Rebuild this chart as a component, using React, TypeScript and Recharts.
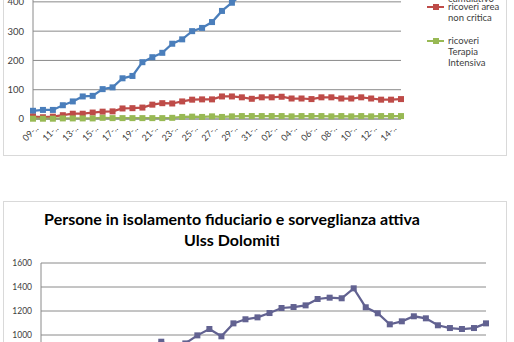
import React from 'react';
import { LineChart, Line, XAxis, YAxis, CartesianGrid } from 'recharts';

const dates = [
  '09-mar', '10-mar', '11-mar', '12-mar', '13-mar', '14-mar', '15-mar', '16-mar', '17-mar', '18-mar',
  '19-mar', '20-mar', '21-mar', '22-mar', '23-mar', '24-mar', '25-mar', '26-mar', '27-mar', '28-mar',
  '29-mar', '30-mar', '31-mar', '01-apr', '02-apr', '03-apr', '04-apr', '05-apr', '06-apr', '07-apr',
  '08-apr', '09-apr', '10-apr', '11-apr', '12-apr', '13-apr', '14-apr', '15-apr',
];

const ricoveriCumulativi = [
  28, 31, 31, 47, 60, 77, 79, 102, 108, 139, 147, 194, 211, 226, 257, 272, 300, 311, 331, 369, 397,
  425, 450, 470, 488, 505, 520, 533, 546, 558, 570, 580, 590, 599, 608, 616, 624, 632,
];
const ricoveriAreaNonCritica = [
  8, 6, 8, 13, 18, 18, 22, 25, 26, 36, 37, 39, 49, 54, 53, 60, 66, 67, 67, 77,
  77, 74, 69, 74, 74, 76, 70, 70, 68, 74, 74, 70, 70, 74, 70, 66, 66, 68,
];
const ricoveriTerapiaIntensiva = [
  1, 1, 1, 2, 2, 2, 2, 4, 3, 3, 3, 3, 3, 3, 4, 7, 8, 7, 9, 7, 9,
  10, 10, 10, 10, 10, 9, 10, 10, 10, 9, 10, 9, 10, 9, 10, 10, 10,
];
const yTicks1 = [0, 100, 200, 300, 400, 500, 600, 700];

const isolamento = [
  310, 380, 450, 520, 590, 650, 720, 790, 850, 900, 944, 905, 930, 997, 1050, 989, 1097, 1131, 1147,
  1183, 1225, 1233, 1247, 1300, 1311, 1306, 1389, 1231, 1181, 1089, 1114, 1156, 1139, 1081, 1058,
  1050, 1058, 1097,
];
const yTicks2 = [0, 200, 400, 600, 800, 1000, 1200, 1400, 1600];

const series1 = [
  { key: 'cum', name: 'ricoveri totali\ncumulativo', color: '#4A7EBB', values: ricoveriCumulativi },
  { key: 'anc', name: 'ricoveri area\nnon critica', color: '#BE4B48', values: ricoveriAreaNonCritica },
  { key: 'ti', name: 'ricoveri\nTerapia\nIntensiva', color: '#98B954', values: ricoveriTerapiaIntensiva },
];

const data1 = dates.map((d, i) => {
  const row: any = { date: d };
  series1.forEach((s) => (row[s.key] = s.values[i]));
  return row;
});
const data2 = dates.map((d, i) => ({ date: d, iso: isolamento[i] }));

const FONT = 'Lato, "Open Sans", sans-serif';
const GRID = '#8a8a8a';

const squareDot = (color: string, size: number) => (props: any) => {
  const { cx, cy, index } = props;
  if (cx == null || cy == null) return <g key={`d${index}`} />;
  return <rect key={`d${index}`} x={cx - size / 2} y={cy - size / 2} width={size} height={size} fill={color} />;
};

const AngledTick = (props: any) => {
  const { x, y, payload } = props;
  const v = String(payload.value);
  return (
    <g transform={`translate(${x + 6},${y + 10})`}>
      <text x={0} y={0} textAnchor="end" transform="rotate(-45)" fontSize={9} fontFamily={FONT} fill="#404040">
        {v.slice(0, 3) + '..'}
      </text>
    </g>
  );
};

const legendTops = [-18.4, 1.1, 34.9];

export default function App() {
  return (
    <div style={{ position: 'absolute', left: 0, top: 0, width: 514, height: 342, overflow: 'hidden', background: '#fff', fontFamily: FONT }}>
      <div style={{ position: 'absolute', left: 3, top: -120, width: 504, height: 276, border: '1px solid #d9d9d9', boxSizing: 'border-box' }} />
      <div style={{ position: 'absolute', left: 0, top: -96 }}>
        <LineChart width={514} height={255} data={data1} margin={{ top: 10, right: 113, bottom: 0, left: 5 }}>
          <CartesianGrid vertical={false} stroke={GRID} strokeWidth={1} />
          <XAxis
            dataKey="date"
            interval={1}
            tickLine={false}
            tickSize={0}
            tickMargin={0}
            height={40}
            axisLine={{ stroke: GRID }}
            tick={<AngledTick />}
          />
          <YAxis
            domain={[0, 700]}
            ticks={yTicks1}
            width={28}
            tickLine={false}
            tickSize={0}
            tickMargin={9}
            axisLine={{ stroke: GRID }}
            tick={{ fontSize: 9.5, fill: '#404040', fontFamily: FONT }}
          />
          {series1.map((s) => (
            <Line
              key={s.key}
              dataKey={s.key}
              name={s.name}
              stroke={s.color}
              strokeWidth={2.25}
              dot={squareDot(s.color, 6)}
              isAnimationActive={false}
            />
          ))}
        </LineChart>
      </div>
      {series1.map((s, i) => (
        <div key={s.key} style={{ position: 'absolute', left: 427, top: legendTops[i] }}>
          <div style={{ position: 'absolute', left: 0, top: 5.2, width: 17, height: 2, background: s.color }} />
          <div style={{ position: 'absolute', left: 5.5, top: 3.2, width: 6, height: 6, background: s.color }} />
          <div style={{ position: 'absolute', left: 21, top: 0, whiteSpace: 'pre', fontSize: 9.5, lineHeight: '11.3px', color: '#404040' }}>
            {s.name}
          </div>
        </div>
      ))}

      <div style={{ position: 'absolute', left: 3, top: 201, width: 504, height: 200, border: '1px solid #d9d9d9', boxSizing: 'border-box' }} />
      <div style={{ position: 'absolute', left: 0, top: 207.5, width: 464, textAlign: 'center', fontSize: 16, fontWeight: 700, lineHeight: '21px', color: '#000', whiteSpace: 'nowrap' }}>
        Persone in isolamento fiduciario e sorveglianza attiva
        <br />
        Ulss Dolomiti
      </div>
      <div style={{ position: 'absolute', left: 0, top: 253 }}>
        <LineChart width={514} height={242} data={data2} margin={{ top: 10, right: 28, bottom: 0, left: 8 }}>
          <CartesianGrid vertical={false} stroke={GRID} strokeWidth={1} />
          <XAxis dataKey="date" interval={1} tickLine={false} tickSize={0} tickMargin={0} height={40} axisLine={{ stroke: GRID }} tick={<AngledTick />} />
          <YAxis
            domain={[0, 1600]}
            ticks={yTicks2}
            width={33}
            tickLine={false}
            tickSize={0}
            tickMargin={9}
            axisLine={{ stroke: GRID }}
            tick={{ fontSize: 8.5, fill: '#404040', fontFamily: FONT }}
          />
          <Line dataKey="iso" name="Persone in isolamento" stroke="#626291" strokeWidth={2.25} dot={squareDot('#626291', 6)} isAnimationActive={false} />
        </LineChart>
      </div>
    </div>
  );
}
